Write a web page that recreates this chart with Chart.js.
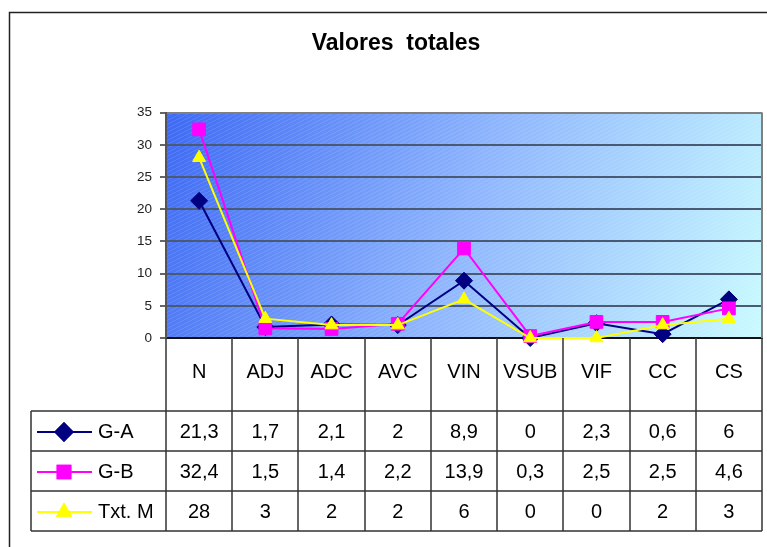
<!DOCTYPE html>
<html lang="es">
<head>
    <meta charset="UTF-8">
    <title>Valores totales</title>
    <script src="https://cdn.jsdelivr.net/npm/chart.js"></script>
    <style>
        body {
            margin: 0;
            background: #fff;
        }
        .chart-container {
            width: 767px;
            height: 547px;
        }
    </style>
</head>
<body>
    <div class="chart-container">
        <canvas id="totalesChart"></canvas>
    </div>

    <script>
    // --- data ---
    const categories = ['N', 'ADJ', 'ADC', 'AVC', 'VIN', 'VSUB', 'VIF', 'CC', 'CS'];
    const seriesNames = ['G-A', 'G-B', 'Txt. M'];
    const grupoA = [21.3, 1.7, 2.1, 2, 8.9, 0, 2.3, 0.6, 6];
    const grupoB = [32.4, 1.5, 1.4, 2.2, 13.9, 0.3, 2.5, 2.5, 4.6];
    const textoM = [28, 3, 2, 2, 6, 0, 0, 2, 3];
    const yTicks = { min: 0, max: 35, step: 5 };

    const fontFamily = "'Liberation Sans', Arial, sans-serif";
    Chart.defaults.font.family = fontFamily;

    function fmt(v) {
        return String(v).replace('.', ',');
    }

    // outer frame, gradient plot background, right border of plot
    const frameAndBackground = {
        id: 'frameAndBackground',
        beforeDraw(chart) {
            const { ctx, chartArea: a } = chart;
            ctx.save();
            ctx.strokeStyle = '#222';
            ctx.lineWidth = 1.5;
            ctx.beginPath();
            ctx.moveTo(9.5, chart.height + 5);
            ctx.lineTo(9.5, 12.5);
            ctx.lineTo(chart.width + 5, 12.5);
            ctx.stroke();

            const g = ctx.createLinearGradient(a.left, a.top, a.right, a.bottom);
            g.addColorStop(0, '#3d69f4');
            g.addColorStop(0.5, '#8fb6fd');
            g.addColorStop(1, '#cafbff');
            ctx.fillStyle = g;
            ctx.fillRect(a.left, a.top, a.right - a.left, a.bottom - a.top);

            // faint diagonal hatch
            const p = document.createElement('canvas');
            p.width = 8; p.height = 4;
            const pc = p.getContext('2d');
            pc.strokeStyle = 'rgba(255,255,255,0.13)';
            pc.lineWidth = 1;
            pc.beginPath();
            pc.moveTo(0, 4); pc.lineTo(8, 0);
            pc.stroke();
            ctx.fillStyle = ctx.createPattern(p, 'repeat');
            ctx.fillRect(a.left, a.top, a.right - a.left, a.bottom - a.top);
            ctx.restore();
        },
        beforeDatasetsDraw(chart) {
            const { ctx, chartArea: a } = chart;
            ctx.save();
            ctx.strokeStyle = '#808080';
            ctx.lineWidth = 2;
            ctx.beginPath();
            ctx.moveTo(a.right, a.top);
            ctx.lineTo(a.right, a.bottom);
            ctx.stroke();
            ctx.restore();
        }
    };

    // data table under the plot, aligned with the x scale
    const dataTable = {
        id: 'dataTable',
        afterDraw(chart) {
            const { ctx, chartArea: a, scales: { x } } = chart;
            const datasets = chart.data.datasets;
            const colW = (a.right - a.left) / categories.length;
            const top = a.bottom;
            const bottom = x.bottom;
            const rowH = 40;
            const firstRow = bottom - rowH * datasets.length;
            const legendLeft = 31;

            ctx.save();
            ctx.strokeStyle = '#333';
            ctx.lineWidth = 1.5;
            ctx.beginPath();
            for (let i = 0; i <= categories.length; i++) {
                const px = Math.round(a.left + i * colW);
                ctx.moveTo(px, top);
                ctx.lineTo(px, bottom);
            }
            ctx.moveTo(legendLeft, firstRow);
            ctx.lineTo(legendLeft, bottom);
            for (let r = 0; r <= datasets.length; r++) {
                const py = Math.round(firstRow + r * rowH);
                ctx.moveTo(legendLeft, py);
                ctx.lineTo(a.right, py);
            }
            ctx.stroke();

            ctx.font = '20px ' + fontFamily;
            ctx.fillStyle = '#000';
            ctx.textBaseline = 'middle';
            datasets.forEach((ds, r) => {
                const cy = firstRow + r * rowH + rowH / 2 + 1;
                // legend key
                ctx.strokeStyle = ds.borderColor;
                ctx.lineWidth = 2;
                ctx.beginPath();
                ctx.moveTo(37, cy);
                ctx.lineTo(92, cy);
                ctx.stroke();
                Chart.helpers.drawPoint(ctx, {
                    pointStyle: ds.pointStyle,
                    radius: ds.pointRadius,
                    rotation: 0,
                    borderWidth: 1
                }, 64, cy);
                ctx.fillStyle = ds.backgroundColor;
                ctx.strokeStyle = ds.borderColor;
                ctx.fill();
                ctx.stroke();

                ctx.fillStyle = '#000';
                ctx.textAlign = 'left';
                ctx.fillText(ds.label, 98, cy);
                ctx.textAlign = 'center';
                ds.data.forEach((v, i) => {
                    ctx.fillText(fmt(v), x.getPixelForValue(i), cy);
                });
            });
            ctx.restore();
        }
    };

    function series(label, data, color, style, radius, order) {
        return {
            label: label,
            data: data,
            borderColor: color,
            backgroundColor: color,
            borderWidth: 2,
            pointStyle: style,
            pointRadius: radius,
            pointHoverRadius: radius,
            pointBorderWidth: 1,
            order: order,
            clip: false,
            tension: 0
        };
    }

    const ctx = document.getElementById('totalesChart').getContext('2d');
    new Chart(ctx, {
        type: 'line',
        data: {
            labels: categories,
            datasets: [
                series(seriesNames[0], grupoA, '#000080', 'rectRot', 8.5, 3),
                series(seriesNames[1], grupoB, '#ff00ff', 'rect', 9, 2),
                series(seriesNames[2], textoM, '#ffff00', 'triangle', 7.5, 1)
            ]
        },
        plugins: [frameAndBackground, dataTable],
        options: {
            responsive: true,
            maintainAspectRatio: false,
            animation: false,
            layout: {
                autoPadding: false,
                padding: { left: 30, right: 5, top: 0, bottom: 16 }
            },
            plugins: {
                legend: { display: false },
                tooltip: { enabled: false },
                title: {
                    display: true,
                    text: 'Valores  totales',
                    color: '#000',
                    font: { size: 23, weight: 'bold' },
                    padding: { top: 30, bottom: 55 }
                }
            },
            scales: {
                x: {
                    offset: true,
                    afterFit(scale) {
                        scale.height = 193;
                        scale.paddingLeft = 0;
                        scale.paddingRight = 0;
                    },
                    grid: { display: false, drawTicks: false },
                    border: { display: true, color: '#111', width: 2 },
                    ticks: {
                        color: '#000',
                        padding: 22,
                        maxRotation: 0,
                        font: { size: 20 }
                    }
                },
                y: {
                    min: yTicks.min,
                    max: yTicks.max,
                    afterFit(scale) { scale.width = 136; },
                    ticks: {
                        stepSize: yTicks.step,
                        color: '#222',
                        padding: 8,
                        font: { size: 13.5 }
                    },
                    grid: {
                        color: c => c.tick && c.tick.value === yTicks.max ? '#808080'
                            : (c.tick && c.tick.value === 0 ? '#111' : '#4b5a73'),
                        lineWidth: 2,
                        tickLength: 6,
                        tickColor: '#333',
                        tickWidth: 1.5
                    },
                    border: { display: true, color: '#555', width: 2 }
                }
            }
        }
    });
    </script>
</body>
</html>
